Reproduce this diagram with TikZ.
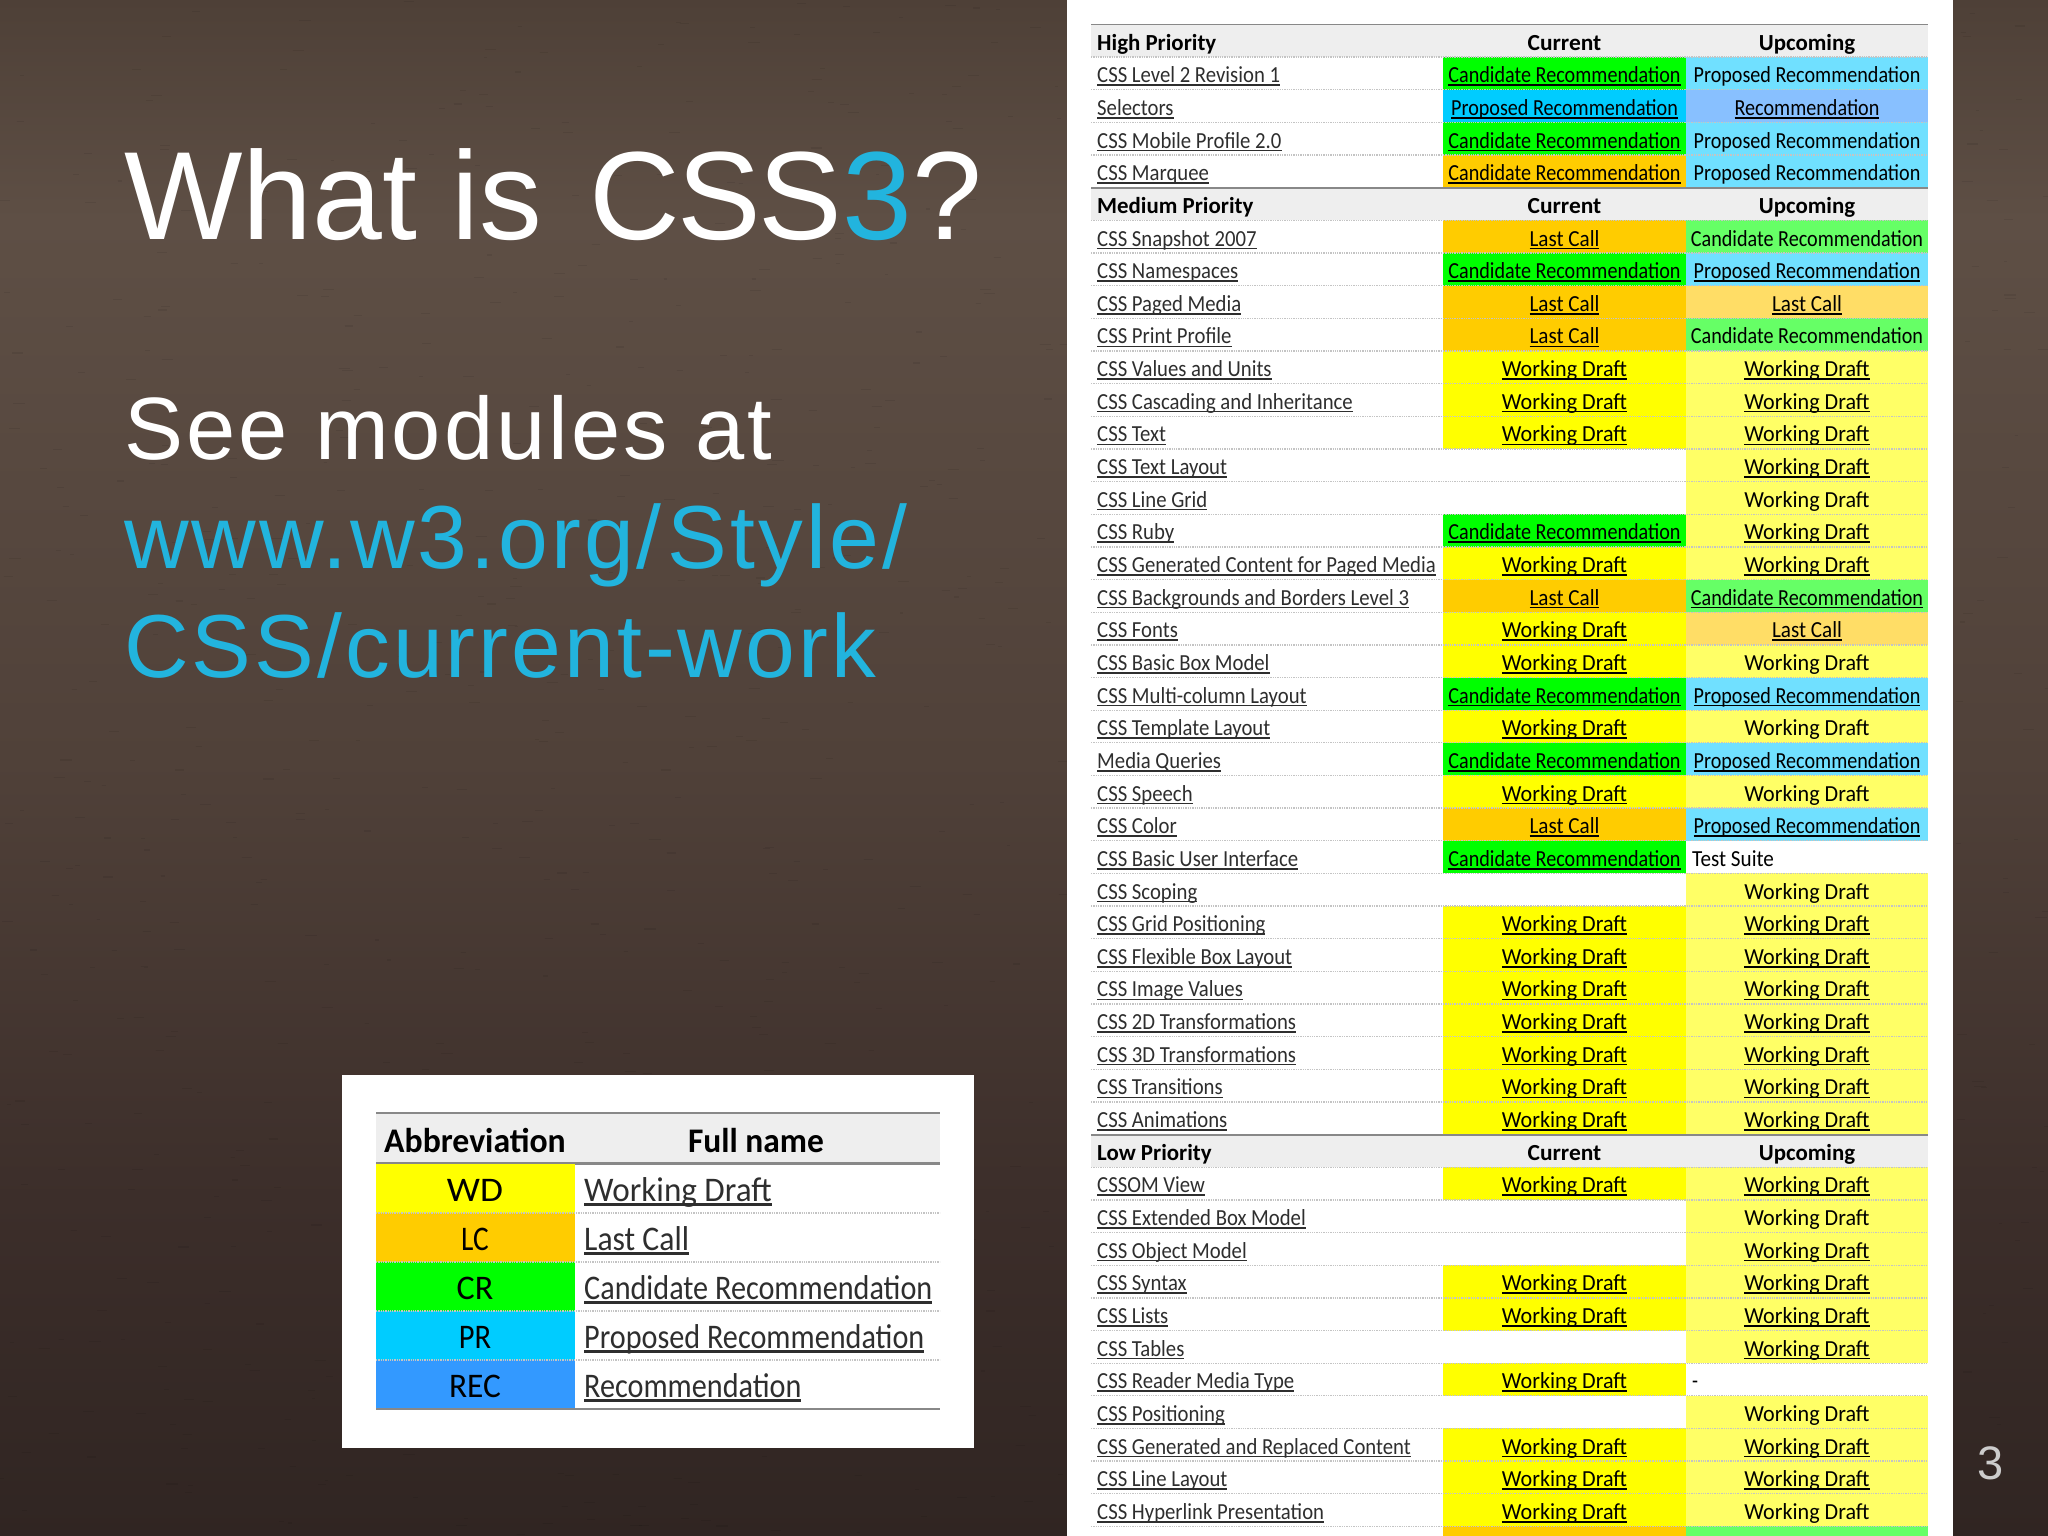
\documentclass[tikz,border=0pt]{standalone}
\usepackage{graphicx}
\usepackage{fontspec}
\setmainfont{Liberation Sans}
\newfontfamily\gs[FakeStretch=0.85]{Carlito}
\newfontfamily\ar{Liberation Sans}
\newfontfamily\artight[LetterSpace=-2.1]{Liberation Sans}
\newfontfamily\arsp[LetterSpace=3.4]{Liberation Sans}
\definecolor{cWD}{HTML}{FFFF00}\definecolor{uWD}{HTML}{FFFF66}
\definecolor{cLC}{HTML}{FFCC00}\definecolor{uLC}{HTML}{FFDD66}
\definecolor{cCR}{HTML}{00FF00}\definecolor{uCR}{HTML}{66FF66}
\definecolor{cPR}{HTML}{00CCFF}\definecolor{uPR}{HTML}{70E0FF}
\definecolor{cREC}{HTML}{3399FF}\definecolor{uREC}{HTML}{88C0FF}
\definecolor{hdr}{HTML}{EEEEEE}
\definecolor{rulegray}{HTML}{888888}
\definecolor{dotgray}{HTML}{C4C4C4}
\definecolor{accent}{HTML}{22B4DE}
\definecolor{linktext}{HTML}{2E2E2E}
\definecolor{bgA}{HTML}{4E4037}
\definecolor{bgB}{HTML}{5E4F45}
\definecolor{bgC}{HTML}{504139}
\definecolor{bgD}{HTML}{3C2E2A}
\definecolor{bgE}{HTML}{302522}
\newlength\lkw
\newcommand\lk[1]{\settowidth\lkw{#1}\rlap{\rule[-.14em]{\lkw}{.07em}}#1}
\newcommand\sx[2]{\scalebox{#1}[1]{#2}}
\newcommand\tWD{\sx{1.13}{Working Draft}}
\newcommand\tLC{\sx{1.08}{Last Call}}
\newcommand\tCR{\sx{1.03}{Candidate Recommendation}}
\newcommand\tPR{\sx{1.03}{Proposed Recommendation}}
\newcommand\tREC{\sx{1.03}{Recommendation}}
\newcounter{rw}
\def\rowh{32.65}
\def\ttop{24.5}
\newcommand\rowtop{\pgfmathsetmacro\rt{\ttop+\rowh*\arabic{rw}}\pgfmathsetmacro\bl{\rt+25.6}}
\newcommand\cell[5]{\fill[#4] (#2,\rt) rectangle ++(#3,\rowh);\node[tbl] (r\arabic{rw}#1) at ({#2+#3/2},\bl) {#5};}
\newcommand\ca[2]{\cell{a}{1443}{243}{#1}{#2}}
\newcommand\cb[2]{\cell{b}{1686}{242}{#1}{#2}}
\def\curW{\ca{cWD}{\lk{\tWD}}}
\def\curL{\ca{cLC}{\lk{\tLC}}}
\def\curC{\ca{cCR}{\lk{\tCR}}}
\def\curP{\ca{cPR}{\lk{\tPR}}}
\def\curX{\ca{cLC}{\lk{\tCR}}}
\def\curN{}
\def\upW{\cb{uWD}{\lk{\tWD}}}
\def\upw{\cb{uWD}{\tWD}}
\def\upL{\cb{uLC}{\lk{\tLC}}}
\def\upC{\cb{uCR}{\lk{\tCR}}}
\def\upc{\cb{uCR}{\tCR}}
\def\upP{\cb{uPR}{\lk{\tPR}}}
\def\upp{\cb{uPR}{\tPR}}
\def\upR{\cb{uREC}{\lk{\tREC}}}
\def\upT{\node[tbl,anchor=base west] (r\arabic{rw}b) at (1692,\bl) {\sx{1.08}{Test Suite}};}
\def\upD{\node[tbl,anchor=base west] (r\arabic{rw}b) at (1692,\bl) {-};}
\newcommand\R[3]{\stepcounter{rw}\rowtop
  \csname cur#2\endcsname\csname up#3\endcsname
  \draw[dotrule] (1091,\rt) -- (1928,\rt);
  \node[tbl,anchor=base west,text=linktext] (r\arabic{rw}n) at (1097,\bl) {\lk{\sx{1.06}{#1}}};}
\newcommand\HD[1]{\rowtop
  \fill[hdr] (1091,\rt) rectangle (1928,\rt+\rowh);
  \draw[secrule] (1091,\rt) -- (1928,\rt);
  \node[tblb,anchor=base west] (h\arabic{rw}n) at (1097,\bl) {\sx{1.17}{#1}};
  \node[tblb] (h\arabic{rw}a) at (1564.5,\bl) {\sx{1.2}{Current}};
  \node[tblb] (h\arabic{rw}b) at (1807,\bl) {\sx{1.17}{Upcoming}};}
\tikzset{
  tbl/.style={font=\gs\fontsize{23}{23}\selectfont,inner sep=0pt,anchor=base,text=black},
  tblb/.style={font=\gs\bfseries\fontsize{23}{23}\selectfont,inner sep=0pt,anchor=base,text=black},
  leg/.style={font=\gs\fontsize{34.5}{34.5}\selectfont,inner sep=0pt,anchor=base,text=black},
  legb/.style={font=\gs\bfseries\fontsize{34.5}{34.5}\selectfont,inner sep=0pt,anchor=base,text=black},
  dotrule/.style={draw=dotgray,line width=1.3pt,dash pattern=on 1.3pt off 1pt},
  secrule/.style={draw=rulegray,line width=1.8pt},
}
\begin{document}
\begin{tikzpicture}[x=1pt,y=-1pt]
\useasboundingbox (0,0) rectangle (2048,1536);
\clip (0,0) rectangle (2048,1536);
% background
\shade[top color=bgA,bottom color=bgB] (0,0) rectangle (2048,220);
\shade[top color=bgB,bottom color=bgC] (0,220) rectangle (2048,760);
\shade[top color=bgC,bottom color=bgD] (0,760) rectangle (2048,1200);
\shade[top color=bgD,bottom color=bgE] (0,1200) rectangle (2048,1536);
\pgfmathsetseed{7}
\foreach \i in {1,...,700}{
  \pgfmathsetmacro\px{rnd*1060}\pgfmathsetmacro\py{rnd*1536}\pgfmathsetmacro\pl{3+rnd*9}
  \draw[black,opacity=.07,line width=1.1pt] (\px,\py) -- ++(\pl,0);
}
\foreach \i in {1,...,60}{
  \pgfmathsetmacro\px{1955+rnd*90}\pgfmathsetmacro\py{rnd*1536}\pgfmathsetmacro\pl{3+rnd*9}
  \draw[black,opacity=.07,line width=1.1pt] (\px,\py) -- ++(\pl,0);
}
% left text
\node[inner sep=0pt,anchor=base west,text=white,font=\ar\fontsize{125.5}{125.5}\selectfont] (title) at (124,239.6) {What is\hspace{12pt} {\artight CSS\textcolor{accent}{3}?}};
\node[inner sep=0pt,anchor=base west,text=white,font=\arsp\fontsize{88.5}{88.5}\selectfont] (see) at (124,459) {See modules at};
\node[inner sep=0pt,anchor=base west,text=accent,font=\arsp\fontsize{89.5}{89.5}\selectfont] (url1) at (124,568.6) {www.w3.org/\hspace{6pt}Style\hspace{4pt}/};
\node[inner sep=0pt,anchor=base west,text=accent,font=\arsp\fontsize{89.5}{89.5}\selectfont] (url2) at (124,677.6) {CSS/current-work};
% slide number
\node[inner sep=0pt,anchor=base,text=black!20,font=\ar\fontsize{47}{47}\selectfont] (num) at (1991,1479) {3};
% right panel
\fill[white] (1067,0) rectangle (1953,1536);
\setcounter{rw}{0}
\HD{High Priority}
\R{CSS Level 2 Revision 1}{C}{p}
\R{Selectors}{P}{R}
\R{CSS Mobile Profile 2.0}{C}{p}
\R{CSS Marquee}{X}{p}
\stepcounter{rw}
\HD{Medium Priority}
\R{CSS Snapshot 2007}{L}{c}
\R{CSS Namespaces}{C}{P}
\R{CSS Paged Media}{L}{L}
\R{CSS Print Profile}{L}{c}
\R{CSS Values and Units}{W}{W}
\R{CSS Cascading and Inheritance}{W}{W}
\R{CSS Text}{W}{W}
\R{CSS Text Layout}{N}{W}
\R{CSS Line Grid}{N}{w}
\R{CSS Ruby}{C}{W}
\R{CSS Generated Content for Paged Media}{W}{W}
\R{CSS Backgrounds and Borders Level 3}{L}{C}
\R{CSS Fonts}{W}{L}
\R{CSS Basic Box Model}{W}{w}
\R{CSS Multi-column Layout}{C}{P}
\R{CSS Template Layout}{W}{w}
\R{Media Queries}{C}{P}
\R{CSS Speech}{W}{w}
\R{CSS Color}{L}{P}
\R{CSS Basic User Interface}{C}{T}
\R{CSS Scoping}{N}{w}
\R{CSS Grid Positioning}{W}{W}
\R{CSS Flexible Box Layout}{W}{W}
\R{CSS Image Values}{W}{W}
\R{CSS 2D Transformations}{W}{W}
\R{CSS 3D Transformations}{W}{W}
\R{CSS Transitions}{W}{W}
\R{CSS Animations}{W}{W}
\stepcounter{rw}
\HD{Low Priority}
\R{CSSOM View}{W}{W}
\R{CSS Extended Box Model}{N}{w}
\R{CSS Object Model}{N}{W}
\R{CSS Syntax}{W}{W}
\R{CSS Lists}{W}{W}
\R{CSS Tables}{N}{W}
\R{CSS Reader Media Type}{W}{D}
\R{CSS Positioning}{N}{w}
\R{CSS Generated and Replaced Content}{W}{W}
\R{CSS Line Layout}{W}{W}
\R{CSS Hyperlink Presentation}{W}{w}
\stepcounter{rw}\rowtop
\fill[cLC] (1443,\rt) rectangle ++(243,\rowh);
\fill[uCR] (1686,\rt) rectangle ++(242,\rowh);
\draw[dotrule] (1091,\rt) -- (1928,\rt);
% legend
\fill[white] (342,1075) rectangle (974,1448);
\fill[hdr] (376,1113) rectangle (939.5,1163);
\draw[secrule] (376,1113) -- (939.5,1113);
\draw[secrule,line width=2.4pt] (376,1163.5) -- (939.5,1163.5);
\node[legb] (lh1) at (475,1152) {\sx{1.15}{Abbreviation}};
\node[legb] (lh2) at (756,1152) {\sx{1.14}{Full name}};
\foreach \yt/\ab/\sc/\col/\nm in {1164/WD/1.27/cWD/\tWD,1213/LC/1/cLC/\tLC,1262/CR/1.16/cCR/\tCR,1311/PR/1.04/cPR/\tPR,1360/REC/1.14/cREC/\tREC}{
  \fill[\col] (376,\yt) rectangle (574.5,\yt+49);
  \node[leg] (la\ab) at (475,\yt+37) {\sx{\sc}{\ab}};
  \node[leg,anchor=base west,text=linktext] (ln\ab) at (584,\yt+37) {\lk{\nm}};
}
\foreach \yy in {1213,1262,1311,1360}{\draw[dotrule,line width=1.5pt] (376,\yy) -- (939.5,\yy);}
\draw[secrule] (376,1409) -- (939.5,1409);
\end{tikzpicture}
\end{document}
